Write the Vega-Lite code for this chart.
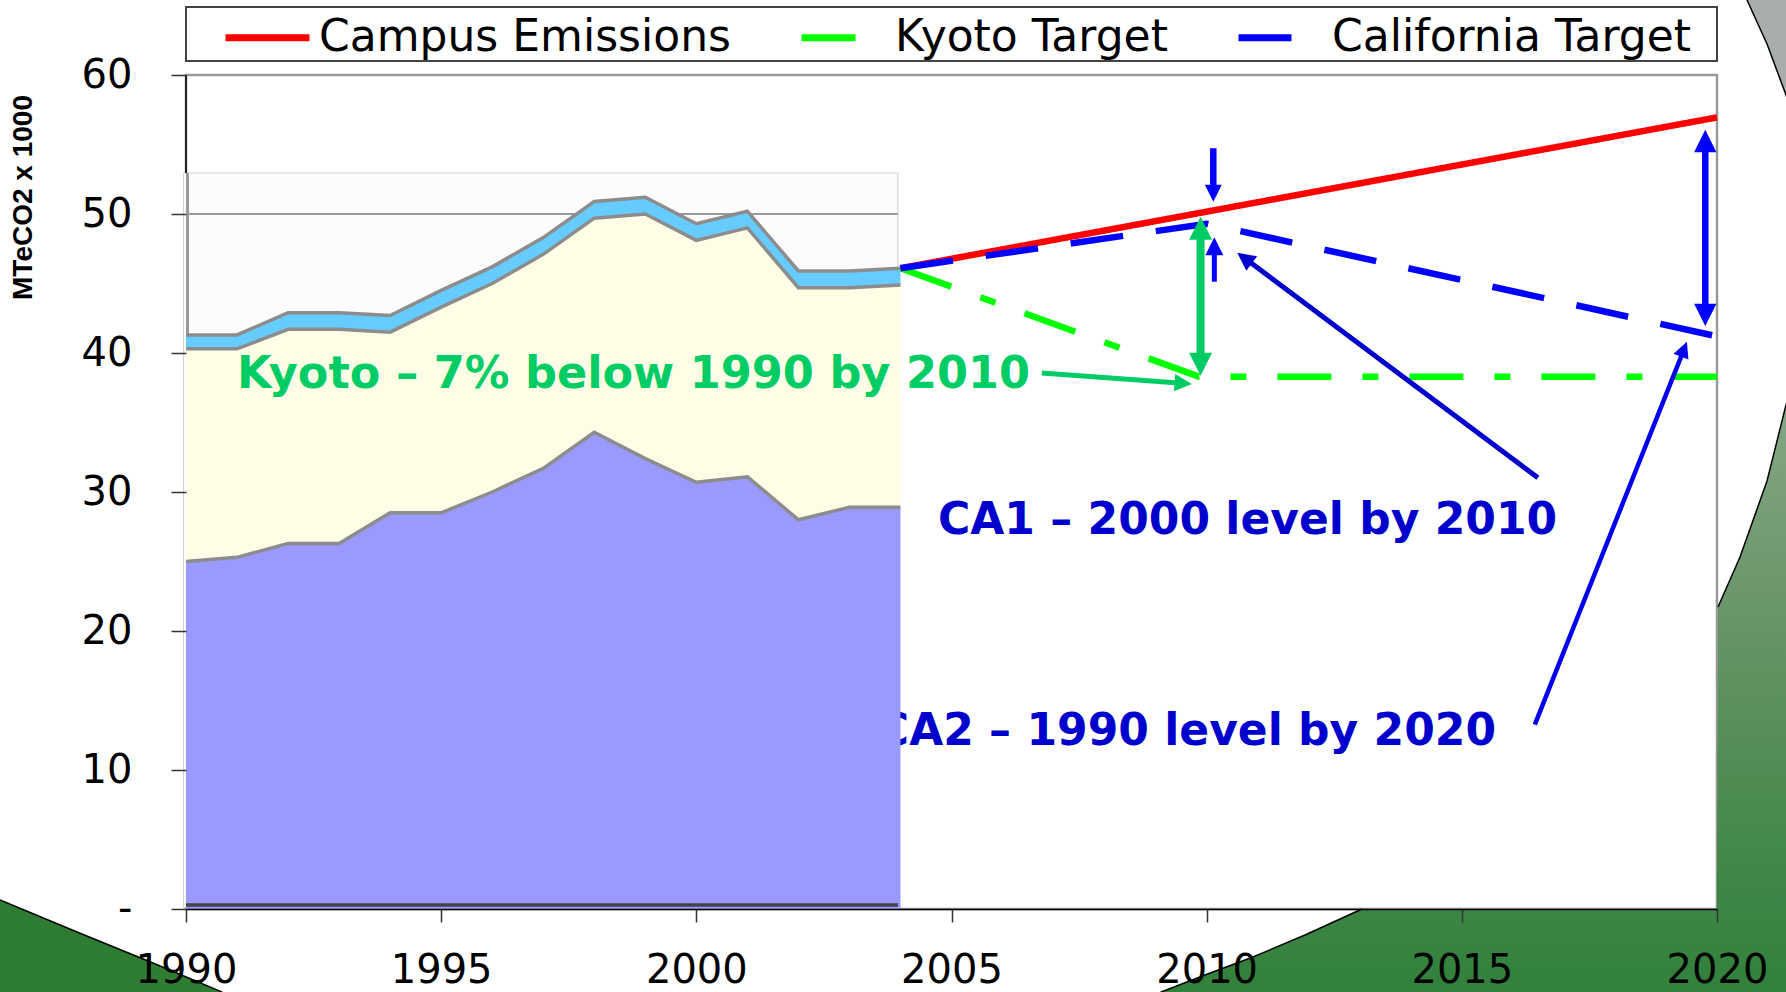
{
  "$schema": "https://vega.github.io/schema/vega-lite/v6.json",
  "width": 1531,
  "height": 834,
  "autosize": {"type": "none"},
  "padding": {"left": 186, "top": 75, "right": 69, "bottom": 83},
  "background": "white",
  "config": {
    "view": {"stroke": "#999999", "strokeWidth": 2.5},
    "axis": {"zindex": 1, "grid": false, "labelFont": "DejaVu Sans", "labelFontSize": 40, "labelColor": "#000000"}
  },
  "datasets": {
    "bands": [
      {"band": "base", "yr": 1990, "v": 25.0, "v2": 0},
      {"band": "base", "yr": 1991, "v": 25.3, "v2": 0},
      {"band": "base", "yr": 1992, "v": 26.3, "v2": 0},
      {"band": "base", "yr": 1993, "v": 26.3, "v2": 0},
      {"band": "base", "yr": 1994, "v": 28.5, "v2": 0},
      {"band": "base", "yr": 1995, "v": 28.5, "v2": 0},
      {"band": "base", "yr": 1996, "v": 30.0, "v2": 0},
      {"band": "base", "yr": 1997, "v": 31.7, "v2": 0},
      {"band": "base", "yr": 1998, "v": 34.3, "v2": 0},
      {"band": "base", "yr": 1999, "v": 32.4, "v2": 0},
      {"band": "base", "yr": 2000, "v": 30.7, "v2": 0},
      {"band": "base", "yr": 2001, "v": 31.1, "v2": 0},
      {"band": "base", "yr": 2002, "v": 28.0, "v2": 0},
      {"band": "base", "yr": 2003, "v": 28.9, "v2": 0},
      {"band": "base", "yr": 2004, "v": 28.9, "v2": 0},
      {"band": "mid", "yr": 1990, "v": 40.3, "v2": 25.0},
      {"band": "mid", "yr": 1991, "v": 40.3, "v2": 25.3},
      {"band": "mid", "yr": 1992, "v": 41.7, "v2": 26.3},
      {"band": "mid", "yr": 1993, "v": 41.7, "v2": 26.3},
      {"band": "mid", "yr": 1994, "v": 41.5, "v2": 28.5},
      {"band": "mid", "yr": 1995, "v": 43.3, "v2": 28.5},
      {"band": "mid", "yr": 1996, "v": 45.0, "v2": 30.0},
      {"band": "mid", "yr": 1997, "v": 47.1, "v2": 31.7},
      {"band": "mid", "yr": 1998, "v": 49.7, "v2": 34.3},
      {"band": "mid", "yr": 1999, "v": 50.0, "v2": 32.4},
      {"band": "mid", "yr": 2000, "v": 48.1, "v2": 30.7},
      {"band": "mid", "yr": 2001, "v": 49.0, "v2": 31.1},
      {"band": "mid", "yr": 2002, "v": 44.7, "v2": 28.0},
      {"band": "mid", "yr": 2003, "v": 44.7, "v2": 28.9},
      {"band": "mid", "yr": 2004, "v": 44.9, "v2": 28.9},
      {"band": "top", "yr": 1990, "v": 41.3, "v2": 40.3},
      {"band": "top", "yr": 1991, "v": 41.3, "v2": 40.3},
      {"band": "top", "yr": 1992, "v": 42.9, "v2": 41.7},
      {"band": "top", "yr": 1993, "v": 42.9, "v2": 41.7},
      {"band": "top", "yr": 1994, "v": 42.7, "v2": 41.5},
      {"band": "top", "yr": 1995, "v": 44.5, "v2": 43.3},
      {"band": "top", "yr": 1996, "v": 46.2, "v2": 45.0},
      {"band": "top", "yr": 1997, "v": 48.3, "v2": 47.1},
      {"band": "top", "yr": 1998, "v": 50.9, "v2": 49.7},
      {"band": "top", "yr": 1999, "v": 51.2, "v2": 50.0},
      {"band": "top", "yr": 2000, "v": 49.3, "v2": 48.1},
      {"band": "top", "yr": 2001, "v": 50.2, "v2": 49.0},
      {"band": "top", "yr": 2002, "v": 45.9, "v2": 44.7},
      {"band": "top", "yr": 2003, "v": 45.9, "v2": 44.7},
      {"band": "top", "yr": 2004, "v": 46.1, "v2": 44.9}
    ],
    "lines": [
      {"series": "Campus Emissions", "yr": 2004, "v": 46.1},
      {"series": "Campus Emissions", "yr": 2020, "v": 56.95},
      {"series": "Kyoto Target", "yr": 2004, "v": 46.1},
      {"series": "Kyoto Target", "yr": 2009.85, "v": 38.3},
      {"series": "Kyoto Target", "yr": 2020, "v": 38.3},
      {"series": "California Target", "yr": 2004, "v": 46.1},
      {"series": "California Target", "yr": 2010, "v": 49.3},
      {"series": "California Target", "yr": 2020, "v": 41.2}
    ],
    "arcs": [
      {"seg": "L", "yr": 1986.3, "v": 0.7},
      {"seg": "L", "yr": 1986.355, "v": 0.647},
      {"seg": "L", "yr": 1987.864, "v": -1.655},
      {"seg": "L", "yr": 1989.353, "v": -3.885},
      {"seg": "L", "yr": 1990.705, "v": -5.971},
      {"seg": "L", "yr": 1990.75, "v": -6.3},
      {"seg": "BR", "yr": 2009.08, "v": -6.3},
      {"seg": "BR", "yr": 2009.105, "v": -5.971},
      {"seg": "BR", "yr": 2009.967, "v": -4.748},
      {"seg": "BR", "yr": 2010.908, "v": -3.453},
      {"seg": "BR", "yr": 2011.927, "v": -1.871},
      {"seg": "BR", "yr": 2013.044, "v": 0},
      {"seg": "R", "yr": 2020.02, "v": 21.727},
      {"seg": "R", "yr": 2020.451, "v": 25.324},
      {"seg": "R", "yr": 2020.98, "v": 30.791},
      {"seg": "R", "yr": 2021.352, "v": 36.259},
      {"seg": "R", "yr": 2021.45, "v": 37.5},
      {"seg": "T", "yr": 2020.55, "v": 65.7},
      {"seg": "T", "yr": 2020.588, "v": 65.396},
      {"seg": "T", "yr": 2020.98, "v": 62.23},
      {"seg": "T", "yr": 2021.352, "v": 58.561},
      {"seg": "T", "yr": 2021.45, "v": 57.5}
    ]
  },
  "encoding": {
    "x": {
      "field": "yr", "type": "quantitative",
      "scale": {"domain": [1990, 2020], "nice": false, "zero": false},
      "axis": {"zindex": 1, "values": [1990, 1995, 2000, 2005, 2010, 2015, 2020], "format": "d", "title": null,
        "domain": true, "domainColor": "#000000", "domainWidth": 1.5,
        "tickColor": "#333333", "tickSize": 13, "tickWidth": 1.5,
        "labelPadding": 28, "labelFlush": false, "labelOverlap": false}
    },
    "y": {
      "field": "v", "type": "quantitative",
      "scale": {"domain": [0, 60], "nice": false, "zero": false},
      "axis": {"zindex": 1, "values": [0, 10, 20, 30, 40, 50, 60], "domain": false,
        "tickColor": "#333333", "tickSize": 15, "tickWidth": 1.5, "labelPadding": 39,
        "labelExpr": "datum.value == 0 ? '-' : datum.label",
        "title": "MTeCO2 x 1000", "titleFont": "Liberation Sans", "titleFontSize": 28, "titleFontWeight": "bold",
        "titleColor": "#000000", "titleX": -163, "titleY": 122, "titleAngle": -90, "titleAlign": "center", "titleBaseline": "middle"}
    }
  },
  "layer": [
    {
      "data": {"name": "arcs"},
      "transform": [{"filter": "datum.seg == 'L'"}],
      "mark": {"type": "area", "color": "#2E7D32", "opacity": 1, "clip": false},
      "encoding": {"y2": {"datum": -7}}
    },
    {
      "data": {"values": [
        {"yr": 2009.08, "v": -6.3}, {"yr": 2009.105, "v": -5.971}, {"yr": 2009.967, "v": -4.748},
        {"yr": 2010.908, "v": -3.453}, {"yr": 2011.927, "v": -1.871}, {"yr": 2013.044, "v": 0},
        {"yr": 2019.995, "v": 0}, {"yr": 2020.02, "v": 21.727}, {"yr": 2020.451, "v": 25.324},
        {"yr": 2020.98, "v": 30.791}, {"yr": 2021.352, "v": 36.259}, {"yr": 2021.45, "v": 37.5}
      ]},
      "mark": {"type": "area", "opacity": 1, "clip": false,
        "color": {"gradient": "linear", "x1": 0, "y1": 0, "x2": 0, "y2": 1,
          "stops": [{"offset": 0, "color": "#88A788"}, {"offset": 0.34, "color": "#6B966B"}, {"offset": 0.74, "color": "#44884A"}, {"offset": 1, "color": "#30803A"}]}},
      "encoding": {"y2": {"datum": -7}}
    },
    {
      "data": {"name": "arcs"},
      "transform": [{"filter": "datum.seg == 'T'"}],
      "mark": {"type": "area", "color": "#A9ADA9", "opacity": 1, "clip": false},
      "encoding": {"y2": {"datum": 67}}
    },
    {
      "data": {"name": "arcs"},
      "mark": {"type": "line", "color": "#000000", "strokeWidth": 1.5, "clip": false},
      "encoding": {"detail": {"field": "seg"}}
    },
    {
      "data": {"values": [{"v": 10}, {"v": 20}, {"v": 30}, {"v": 40}, {"v": 50}]},
      "mark": {"type": "rule", "color": "#333333", "strokeWidth": 1.2},
      "encoding": {"x": {"datum": 2003.95}, "x2": {"datum": 2020}}
    },
    {
      "data": {"values": [{"t": "CA2 \u2013 1990 level by 2020", "yr": 2015.67, "v": 11.8}]},
      "mark": {"type": "text", "font": "DejaVu Sans", "fontSize": 44, "fontWeight": "bold", "color": "#0000CC", "align": "right", "baseline": "alphabetic"},
      "encoding": {"text": {"field": "t"}}
    },
    {
      "data": {"values": [{"yr": 1989.95, "yr2": 2003.95, "v": 52.95, "v2": 0.1}]},
      "mark": {"type": "rect", "color": "#FCFCFC", "opacity": 1, "stroke": "#D0D0D0", "strokeWidth": 1},
      "encoding": {"x2": {"field": "yr2"}, "y2": {"field": "v2"}}
    },
    {
      "data": {"values": [{"yr": 1990.03, "v": 0.1, "v2": 52.95}]},
      "mark": {"type": "rule", "color": "#999999", "strokeWidth": 3},
      "encoding": {"y2": {"field": "v2"}}
    },
    {
      "data": {"values": [{"yr": 1990, "v": 52.95, "v2": 60}]},
      "mark": {"type": "rule", "color": "#222222", "strokeWidth": 2},
      "encoding": {"y2": {"field": "v2"}}
    },
    {
      "data": {"values": [{"yr": 1990, "yr2": 2003.95, "v": 50}]},
      "mark": {"type": "rule", "color": "#9A9A9A", "strokeWidth": 2},
      "encoding": {"x2": {"field": "yr2"}}
    },
    {
      "data": {"name": "bands"},
      "transform": [{"filter": "datum.band == 'base'"}],
      "mark": {"type": "area", "color": "#9999FF", "opacity": 1},
      "encoding": {"y2": {"field": "v2"}}
    },
    {
      "data": {"name": "bands"},
      "transform": [{"filter": "datum.band == 'mid'"}],
      "mark": {"type": "area", "color": "#FEFEE6", "opacity": 1},
      "encoding": {"y2": {"field": "v2"}}
    },
    {
      "data": {"name": "bands"},
      "transform": [{"filter": "datum.band == 'top'"}],
      "mark": {"type": "area", "color": "#66CCFF", "opacity": 1},
      "encoding": {"y2": {"field": "v2"}}
    },
    {
      "data": {"name": "bands"},
      "mark": {"type": "line", "color": "#8C8C8C", "strokeWidth": 3.5},
      "encoding": {"detail": {"field": "band"}}
    },
    {
      "data": {"values": [{"yr": 1990, "yr2": 2003.95, "v": 0.29}]},
      "mark": {"type": "rule", "color": "#444444", "strokeWidth": 3.5},
      "encoding": {"x2": {"field": "yr2"}}
    },
    {
      "data": {"name": "lines"},
      "mark": {"type": "line", "strokeWidth": 6.5, "strokeCap": "butt"},
      "encoding": {
        "color": {"field": "series", "type": "nominal",
          "scale": {"domain": ["Campus Emissions", "Kyoto Target", "California Target"], "range": ["#FF0000", "#00FF00", "#0000FF"]},
          "legend": {"title": null, "orient": "none", "legendX": 36, "legendY": -83, "direction": "horizontal",
            "symbolType": "stroke", "symbolSize": 7056, "symbolStrokeWidth": 7,
            "labelFont": "DejaVu Sans", "labelFontSize": 44, "labelColor": "#000000", "labelLimit": 800,
            "labelOffset": 6, "columnPadding": 56, "padding": 0}},
        "strokeDash": {"field": "series", "type": "nominal",
          "scale": {"domain": ["Campus Emissions", "Kyoto Target", "California Target"], "range": [[1, 0], [54, 31, 16, 31], [53, 33]]},
          "legend": {"title": null, "orient": "none", "legendX": 36, "legendY": -83, "direction": "horizontal",
            "symbolType": "stroke", "symbolSize": 7056, "symbolStrokeWidth": 7,
            "labelFont": "DejaVu Sans", "labelFontSize": 44, "labelColor": "#000000", "labelLimit": 800,
            "labelOffset": 6, "columnPadding": 56, "padding": 0}}
      }
    },
    {
      "data": {"values": [{"yr": 1990, "yr2": 2020, "v": 64.89, "v2": 61.01}]},
      "mark": {"type": "rect", "fill": "#FFFFFF", "stroke": "#444444", "strokeWidth": 2, "opacity": 1, "fillOpacity": 0, "clip": false},
      "encoding": {"x2": {"field": "yr2"}, "y2": {"field": "v2"}}
    },
    {
      "data": {"values": [{"t": "CA1 \u2013 2000 level by 2010", "yr": 2004.735, "v": 26.98}]},
      "mark": {"type": "text", "font": "DejaVu Sans", "fontSize": 44, "fontWeight": "bold", "color": "#0000CC", "align": "left", "baseline": "alphabetic"},
      "encoding": {"text": {"field": "t"}}
    },
    {
      "data": {"values": [{"t": "Kyoto \u2013 7% below 1990 by 2010", "yr": 1991.0, "v": 37.48}]},
      "mark": {"type": "text", "font": "DejaVu Sans", "fontSize": 44.6, "fontWeight": "bold", "color": "#00CC66", "align": "left", "baseline": "alphabetic"},
      "encoding": {"text": {"field": "t"}}
    },
    {
      "data": {"values": [{"yr": 2010.13, "v": 54.73, "yr2": 2010.13, "v2": 51.4}, {"yr": 2019.77, "v": 55.2, "yr2": 2019.77, "v2": 42.8}]},
      "mark": {"type": "rule", "color": "#0000FF", "strokeWidth": 6.5},
      "encoding": {"x2": {"field": "yr2"}, "y2": {"field": "v2"}}
    },
    {
      "data": {"values": [{"yr": 2010.15, "v": 45.13, "yr2": 2010.15, "v2": 47.7}]},
      "mark": {"type": "rule", "color": "#0000FF", "strokeWidth": 5},
      "encoding": {"x2": {"field": "yr2"}, "y2": {"field": "v2"}}
    },
    {
      "data": {"values": [{"yr": 2009.88, "v": 48.85, "yr2": 2009.88, "v2": 39.35}]},
      "mark": {"type": "rule", "color": "#00CC66", "strokeWidth": 8},
      "encoding": {"x2": {"field": "yr2"}, "y2": {"field": "v2"}}
    },
    {
      "data": {"values": [{"yr": 2006.77, "v": 38.56, "yr2": 2009.52, "v2": 37.82}]},
      "mark": {"type": "rule", "color": "#00CC66", "strokeWidth": 5},
      "encoding": {"x2": {"field": "yr2"}, "y2": {"field": "v2"}}
    },
    {
      "data": {"values": [{"yr": 2016.49, "v": 31.03, "yr2": 2010.76, "v2": 46.78}]},
      "mark": {"type": "rule", "color": "#0000CC", "strokeWidth": 5},
      "encoding": {"x2": {"field": "yr2"}, "y2": {"field": "v2"}}
    },
    {
      "data": {"values": [{"yr": 2016.43, "v": 13.27, "yr2": 2019.34, "v2": 40.14}]},
      "mark": {"type": "rule", "color": "#0000EE", "strokeWidth": 4.5},
      "encoding": {"x2": {"field": "yr2"}, "y2": {"field": "v2"}}
    },
    {
      "data": {"values": [{"yr": 2010.15, "v": 48.32}]},
      "mark": {"type": "point", "shape": "M0,0L-1,2L1,2Z", "filled": true, "opacity": 1, "strokeWidth": 0, "color": "#0000FF", "size": 324, "angle": 0}
    },
    {
      "data": {"values": [{"yr": 2019.77, "v": 56.06}]},
      "mark": {"type": "point", "shape": "M0,0L-1,2L1,2Z", "filled": true, "opacity": 1, "strokeWidth": 0, "color": "#0000FF", "size": 500, "angle": 0}
    },
    {
      "data": {"values": [{"yr": 2019.77, "v": 41.94}]},
      "mark": {"type": "point", "shape": "M0,0L-1,2L1,2Z", "filled": true, "opacity": 1, "strokeWidth": 0, "color": "#0000FF", "size": 500, "angle": 180}
    },
    {
      "data": {"values": [{"yr": 2010.13, "v": 50.88}]},
      "mark": {"type": "point", "shape": "M0,0L-1,2L1,2Z", "filled": true, "opacity": 1, "strokeWidth": 0, "color": "#0000FF", "size": 289, "angle": 180}
    },
    {
      "data": {"values": [{"yr": 2009.88, "v": 49.8}]},
      "mark": {"type": "point", "shape": "M0,0L-1,2L1,2Z", "filled": true, "opacity": 1, "strokeWidth": 0, "color": "#00CC66", "size": 529, "angle": 0}
    },
    {
      "data": {"values": [{"yr": 2009.88, "v": 38.37}]},
      "mark": {"type": "point", "shape": "M0,0L-1,2L1,2Z", "filled": true, "opacity": 1, "strokeWidth": 0, "color": "#00CC66", "size": 529, "angle": 180}
    },
    {
      "data": {"values": [{"yr": 2009.71, "v": 37.77}]},
      "mark": {"type": "point", "shape": "M0,0L-1,2L1,2Z", "filled": true, "opacity": 1, "strokeWidth": 0, "color": "#00CC66", "size": 300, "angle": 94.2}
    },
    {
      "data": {"values": [{"yr": 2010.6, "v": 47.21}]},
      "mark": {"type": "point", "shape": "M0,0L-1,2L1,2Z", "filled": true, "opacity": 1, "strokeWidth": 0, "color": "#0000CC", "size": 324, "angle": 306.8}
    },
    {
      "data": {"values": [{"yr": 2019.41, "v": 40.81}]},
      "mark": {"type": "point", "shape": "M0,0L-1,2L1,2Z", "filled": true, "opacity": 1, "strokeWidth": 0, "color": "#0000EE", "size": 256, "angle": 21.6}
    }
  ]
}
